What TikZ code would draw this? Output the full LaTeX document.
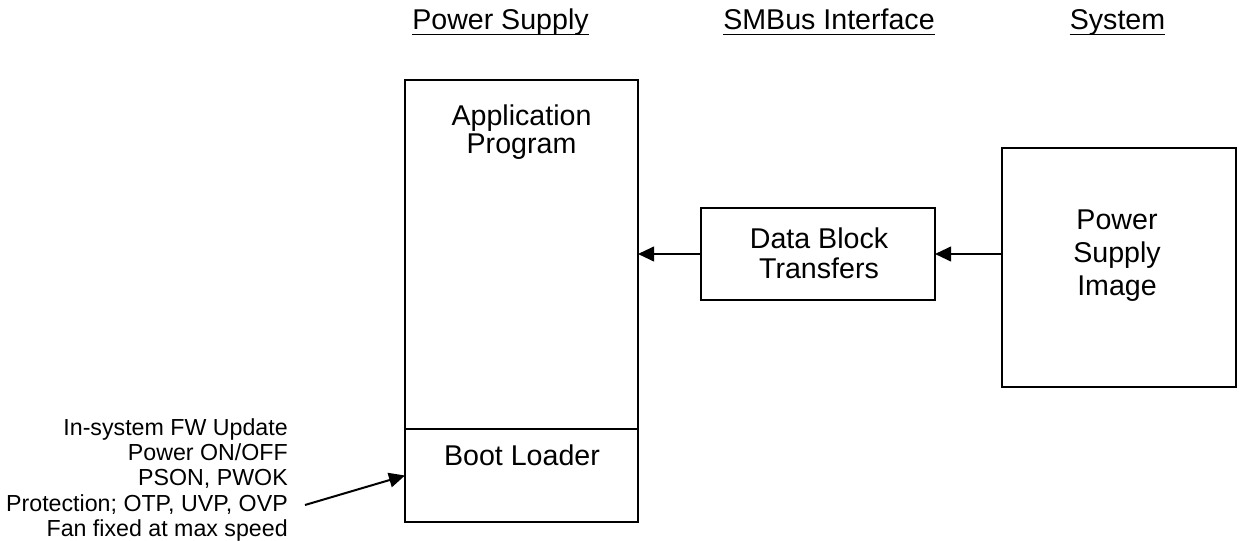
\documentclass[tikz,border=0pt]{standalone}
\usepackage{fontspec}
\setmainfont{Liberation Sans}
\usetikzlibrary{arrows.meta,positioning}

\begin{document}
\begin{tikzpicture}[x=0.75pt, y=-0.75pt,
    blk/.style={draw, line width=1.8pt, outer sep=0pt, inner sep=0pt},
    txt/.style={inner sep=0pt, align=center},
    hdr/.style={inner sep=0pt, anchor=base, font=\fontsize{21.45}{21}\selectfont},
    uline/.style={line width=1.3pt},
    arr/.style={line width=1.5pt, -{Triangle[length=12pt, width=11pt]}}]
    \useasboundingbox (0,0) rectangle (1239,541);

    % Column headings
    \node[hdr] (hps) at (500.5,30) {Power Supply};
    \node[hdr] (hbus) at (829,30) {SMBus Interface};
    \node[hdr] (hsys) at (1117.5,30) {System};
    \foreach \h in {hps,hbus,hsys}
        \draw[uline] ([yshift=-3.4pt]\h.base west) -- ([yshift=-3.4pt]\h.base east);

    % Power supply firmware
    \node[blk, minimum width=174.75pt, minimum height=261.75pt] (app) at (521.5,254.5) {};
    \node[blk, minimum width=174.75pt, minimum height=69.75pt, below=0pt of app] (boot) {};
    \node[txt, anchor=north, font=\fontsize{21.45}{21}\selectfont] (apptxt) at (521.5,105) {Application\\Program};
    \node[txt, anchor=north, font=\fontsize{21.45}{21}\selectfont] (boottxt) at (522,445) {Boot Loader};

    % SMBus transfers
    \node[blk, minimum width=175.5pt, minimum height=69pt] (dbt) at (818,254) {};
    \node[txt, anchor=north, font=\fontsize{21.45}{22.5}\selectfont] (dbttxt) at (819,228) {Data Block\\Transfers};

    % System side
    \node[blk, minimum width=175.5pt, minimum height=179.25pt] (psi) at (1119,267.5) {};
    \node[txt, anchor=north, font=\fontsize{21.45}{24.4}\selectfont] (psitxt) at (1117,210) {Power\\Supply\\Image};

    % Boot loader features
    \node[txt, align=right, anchor=north east, font=\fontsize{17.4}{19}\selectfont] (feat) at (288,418)
        {In-system FW Update\\Power ON/OFF\\PSON, PWOK\\Protection; OTP, UVP, OVP\\Fan fixed at max speed};
    \coordinate (featout) at (305,505);

    % Arrows
    \draw[arr] (dbt.west) -- (dbt.west -| app.east);
    \draw[arr] (dbt.east -| psi.west) -- (dbt.east);
    \draw[arr] (featout) -- (boot.west);
\end{tikzpicture}
\end{document}
